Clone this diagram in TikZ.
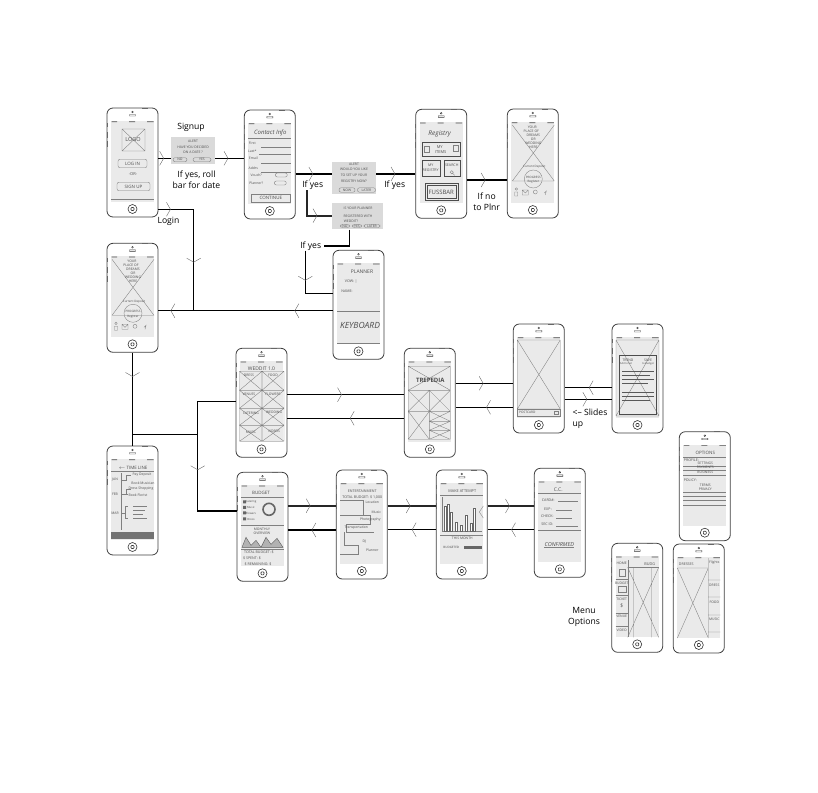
\documentclass[tikz,border=0pt]{standalone}
\usepackage{fontspec}
\setmainfont{Open Sans}
\usetikzlibrary{positioning}
\usetikzlibrary{arrows.meta}
\usetikzlibrary{decorations.markings}
\definecolor{screengray}{HTML}{EAEAEA}
\definecolor{alertgray}{HTML}{DADADA}
\tikzset {
  % phone body
  phone/.style = {draw=black!75, fill=white, line width=.8pt, rounded corners=6pt, minimum width=51pt, minimum height=109pt, inner sep=0pt},
  homebtn/.style = {draw=black!80, circle, line width=.6pt, minimum size=9pt, inner sep=0pt},
  % paper cut outs between the phones
  alertbox/.style = {fill=alertgray, inner sep=0pt},
  % handwriting and pencil lines on the screens
  sk/.style = {text=black!70, inner sep=0pt, align=center},
  skline/.style = {draw=black!50, line width=.35pt},
  % connectors
  link/.style = {draw=black, line width=1.5pt},
  linkb/.style = {draw=black!85, line width=2.1pt},
  go/.style = {postaction={decorate, decoration={markings, mark=at position #1pt with {\arrow{Straight Barb[length=4pt, width=14pt, line width=.4pt, color=black!60]}}}}},
  lab/.style = {font=\fontsize{8.6}{11}\selectfont, inner sep=0pt, align=center},
}
\newcounter{skno}
\newcommand{\sk}[4][3.4]{\stepcounter{skno}\node[sk, font=\fontsize{#1}{#1}\selectfont] (sk\arabic{skno}) at (#2,#3) {#4};}
\newcommand{\skb}[6][3.4]{\stepcounter{skno}\node[sk, skline, rounded corners=2pt, minimum width=#4pt, minimum height=#5pt, font=\fontsize{#1}{#1}\selectfont] (sk\arabic{skno}) at (#2,#3) {#6};}
\newcommand{\xbox}[4]{\draw[skline] (#1,#2) rectangle (#3,#4) (#1,#2) -- (#3,#4) (#1,#4) -- (#3,#2);}
% name, left, top, screen content
\newcommand{\phone}[4]{
  \node[phone] (#1) at (#2+25.5,#3+54.5) {};
  \begin{scope}[shift={(#2,#3)}]
    \fill[screengray] (4,13) rectangle (47,94);
    \fill[black!70] (4.5,13.3) rectangle (10,14) (22,13.3) rectangle (28,14) (40,13.3) rectangle (46.5,14);
    \draw[black!60, line width=.9pt] (35,0) -- (41,0) (0,15) -- (0,19) (0,24) -- (0,30) (0,33) -- (0,39);
    \draw[black!80, line width=.4pt] (25.5,4) circle (.9) (22.5,6.5) rectangle (28.5,8);
    \node[homebtn] (#1btn) at (25.5,101) {};
    \draw[black!80, line width=.6pt, rounded corners=.8pt] (24,99.5) rectangle (27,102.5);
    #4
  \end{scope}
}
\newcommand{\homeshot}{
  \draw[skline] (5,16) -- (47,72) (47,16) -- (5,72) (5,72) -- (47,72);
  \sk{25}{18}{YOUR} \sk{24}{22}{PLACE OF} \sk{26}{26}{DREAMS} \sk{26}{30}{OR} \sk{26}{34}{WEDDING} \sk{26}{38}{HERE}
  \sk[3]{27}{58}{Current Deposit}
  \draw[skline] (26,70) ellipse (9 and 9);
  \sk[3]{26}{68}{PROGRESS} \sk[3]{26}{73}{Register}
  \draw[skline] (9,80) circle (1.2) (7.5,83) rectangle (10.5,87) (15,81) rectangle (21,86) (15,81) -- (18,84) -- (21,81) (28,83) circle (2) (37,84) -- (39,82) -- (38,86);
}

\begin{document}
\begin{tikzpicture}[x=1pt, y=-1pt]
  \useasboundingbox (0,0) rectangle (818,792);

  \phone{login}{107}{108}{
    \xbox{15}{21}{38}{43}
    \sk[5.5]{26}{32}{LOGO}
    \skb[4.5]{25.5}{55.5}{29}{8.5}{LOG IN}
    \sk[4]{26}{66.5}{-OR-}
    \skb[4.5]{26.5}{78.5}{33}{8.5}{SIGN UP}
    \draw[skline] (4,91) -- (47,91);
  }
  \phone{contact}{244.3}{110}{
    \sk[6]{26}{23}{\itshape Contact Info}
    \draw[skline] (4,28) -- (47,28) (17,37) -- (47,37) (15,44) -- (47,44) (17,53) -- (47,53) (17,62) -- (47,62);
    \sk{8}{33}{First} \sk{8}{41}{Last*} \sk{9}{48}{Email} \sk{9}{58}{Addrs}
    \sk{12}{65}{Vouch?} \sk{12}{73}{Planner?}
    \skb{37}{65}{12}{4}{} \skb{36}{73}{12}{4}{}
    \draw[skline] (7,84) rectangle (46,92);
    \sk[4.5]{26.5}{88}{CONTINUE}
  }
  \phone{registry}{415.7}{109.3}{
    \sk[6.5]{24}{25}{\itshape Registry}
    \draw[skline, black!70] (6,33) rectangle (44,47) (6,51) rectangle (24,67) (28,51) rectangle (44,67) (9,74) rectangle (42,91) (11,76) rectangle (40,89);
    \draw[skline] (8,37) rectangle (13,43) (37,36) rectangle (42,42);
    \sk[4]{24}{38}{MY} \sk[4]{25}{43}{ITEMS}
    \sk[3.6]{15}{56}{MY} \sk[3.6]{15}{61}{REGISTRY}
    \sk[3.6]{36}{56}{SEARCH}
    \draw[skline] (36,63) circle (1.6) (37,64) -- (39,66);
    \sk[6]{25.5}{83}{FUSSBAR}
  }
  \phone{hometop}{507.3}{109}{\homeshot}
  \phone{home}{107}{243.3}{\homeshot}
  \phone{planner}{333}{250.3}{
    \sk[5]{29}{21}{PLANNER}
    \sk[3.6]{18}{31}{VOW: |}
    \sk[3.6]{14}{41}{NAME:}
    \draw[skline] (4,61) -- (47,61) (4,93) -- (47,93);
    \sk[8.5]{27}{75}{\itshape KEYBOARD}
  }
  \phone{workout}{236}{348.3}{
    \sk[5]{25.5}{20}{WEDDIT 1.0}
    \xbox{3.5}{23}{26}{42} \xbox{26}{23}{48}{42}
    \xbox{3.5}{42}{26}{60} \xbox{26}{42}{48}{60}
    \xbox{3.5}{60}{26}{77} \xbox{26}{60}{48}{77}
    \xbox{3.5}{77}{26}{93} \xbox{26}{77}{48}{93}
    \sk{13}{27}{DRESS} \sk{37}{27}{FOOD} \sk{13}{46}{VENUES} \sk{37}{46}{FLOWERS}
    \sk{15}{65}{CATERING} \sk{38}{64}{WEDDING} \sk{15}{84}{MUSIC} \sk{38}{83}{VIDEOS}
  }
  \phone{timeline}{107}{446}{
    \sk[4.5]{26}{22}{$\leftarrow$ TIME LINE}
    \draw[skline] (4,25) -- (47,25) (14,27) -- (14,84);
    \sk{8}{34}{JAN} \sk{8}{48}{FEB} \sk{8}{67}{MAR}
    \draw[skline] (14,34) -- (19,34) -- (19,29) -- (24,29) (14,48) -- (19,48) -- (19,43) -- (24,43) (19,48) -- (21,48) (14,67) -- (18,67) -- (18,60) -- (21,60) (18,67) -- (18,72) -- (21,72);
    \sk{35}{29}{Pay Deposit} \sk{36}{37}{Book Musician} \sk{34}{43}{Dress Shopping} \sk{31}{49}{Book Florist}
    \draw[skline] (26,60) -- (40,60) (26,64) -- (38,64) (26,68) -- (36,68) (26,72) -- (40,72);
    \fill[black!55] (4,86) rectangle (47,93);
  }
  \phone{budget}{237}{472.3}{
    \sk[4.5]{24}{21}{BUDGET}
    \draw[skline] (4,25) -- (47,25) (4,53) -- (47,53) (4,77) -- (47,77);
    \fill[black!60] (6,28) rectangle (9,31) (6,33.5) rectangle (9,36.5) (6,39) rectangle (9,42) (6,45) rectangle (9,48);
    \sk[2.8]{14}{30}{Catering} \sk[2.8]{14}{35}{Music} \sk[2.8]{14}{41}{Flowers} \sk[2.8]{14}{47}{Dress}
    \draw[black!60, line width=1.6pt] (32,37) circle (6);
    \sk{25}{57}{MONTHLY} \sk{25}{61}{OVERVIEW}
    \draw[black!65, fill=black!30, line width=.4pt] (5,75) -- (9,65) -- (14,73) -- (19,68) -- (24,75) -- (29,65) -- (34,72) -- (40,66) -- (46,75) -- cycle;
    \sk[3.6]{22}{80}{TOTAL BUDGET: \$}
    \sk[3.6]{15}{86}{\$ SPENT: \$}
    \sk[3.6]{21}{91.5}{\$ REMAINING: \$}
  }
  \phone{entertain}{336.3}{470}{
    \sk[3.6]{26}{21}{ENTERTAINMENT}
    \sk[3.6]{26}{27}{TOTAL BUDGET: \$ 1,000}
    \draw[skline] (4,30) -- (27,30) -- (27,45) -- (4,45) (27,45) -- (34,45) -- (34,54) -- (10,54) -- (10,62) (10,62) -- (38,62) (8,62) -- (8,75) -- (22,75) -- (22,84) -- (4,84);
    \sk{36}{32}{Location} \sk{40}{42}{Music} \sk{34}{50}{Photography} \sk{20}{58}{Transportation} \sk{28}{72}{DJ} \sk{36}{80}{Planner}
  }
  \phone{make}{436.3}{470}{
    \sk[3.8]{26}{21}{MAKE ATTEMPT}
    \draw[skline] (4,25) -- (47,25) (6,27) -- (6,61) -- (46,61) (4,65) -- (47,65);
    \draw[black!60, line width=.45pt, fill=white] (8,36) rectangle (10,61) (11,34) rectangle (13,61) (14,42) rectangle (16,61) (19,52) rectangle (21,61) (24,55) rectangle (26,61) (29,45) rectangle (31,61) (34,53) rectangle (36,61) (37,38) rectangle (39,61);
    \draw[skline] (47,36) -- (43,42) -- (47,48);
    \sk{26}{68}{THIS MONTH}
    \sk[3]{15}{77}{BUDGETED}
    \fill[black!60] (28,75.5) rectangle (46,78.5);
  }
  \phone{payform}{534.3}{468.3}{
    \sk[5]{24}{21}{C.C.}
    \draw[skline] (4,25) -- (47,25) (24,33) -- (44,33) (22,42) -- (38,42) (22,50) -- (38,50) (22,58) -- (44,58) (4,62) -- (47,62);
    \sk[3.6]{14}{32}{CARD\#:} \sk[3.6]{14}{41}{EXP :} \sk[3.6]{13}{48}{CHECK:} \sk[3.6]{13}{56}{SEC ID:}
    \sk[5.5]{25}{76}{\itshape CONFIRMED}
    \draw[skline] (10,79) -- (40,79);
  }
  \phone{transit}{404.3}{348.3}{
    \xbox{4}{18}{46}{42}
    \sk[6]{26}{32}{\bfseries TREPEDIA}
    \xbox{4}{42}{25}{63} \xbox{25}{42}{46}{63}
    \xbox{4}{63}{25}{91} \xbox{25}{63}{46}{73} \xbox{25}{73}{46}{82} \xbox{25}{82}{46}{91}
  }
  \phone{venuemap}{513.3}{324}{
    \xbox{4}{16}{47}{85}
    \draw[skline] (4,85) rectangle (47,92);
    \sk[3.2]{14}{88.5}{POSTCARD}
    \draw[skline] (41,87) rectangle (45,90);
  }
  \phone{detail}{612}{324}{
    \xbox{4}{16}{47}{92}
    \draw[skline, black!70] (7,31) rectangle (44,90);
    \sk{16}{36}{TREND} \sk{36}{36}{SAVE} \sk[2.6]{14}{40}{Add to list} \sk[2.6]{36}{40}{to budget}
    \draw[black!65, line width=.4pt] (10,47) -- (42,47) (10,51) -- (38,51) (10,55) -- (42,55) (10,59) -- (36,59) (10,68) -- (42,68) (10,72) -- (42,72) (10,76) -- (38,76);
  }
  \phone{options}{679.3}{431.7}{
    \sk[4.5]{26}{21}{OPTIONS}
    \draw[skline] (4,25) -- (47,25) (4,34) -- (47,34) (4,38) -- (47,38) (4,43) -- (47,43) (4,60) -- (47,60) (4,64) -- (47,64) (4,68) -- (47,68) (4,73) -- (47,73);
    \sk[3.6]{12}{29}{PROFILE:} \sk{26}{32}{SETTINGS} \sk{26}{36}{PAYMENTS} \sk{26}{41}{BUSINESS} \sk[3.6]{11}{49}{POLICY:} \sk{26}{54}{TERMS} \sk{26}{58}{PRIVACY}
  }
  \phone{menubudget}{611.7}{543.3}{
    \sk[3.8]{38}{21}{BUDG}
    \draw[skline] (16,17) -- (16,94) (16,24) -- (47,24) (4,36) -- (16,36) (4,52) -- (16,52) (4,70) -- (16,70) (4,83) -- (16,83);
    \draw[skline] (22,24) -- (22,94) (40,24) -- (40,94) (16,24) -- (47,94) (47,24) -- (16,94);
    \sk{10}{20}{HOME} \sk{10}{40}{BUDGET} \sk{10}{56}{TICKET} \sk{10}{73}{VENUE} \sk{10}{87}{VIDEO}
    \draw[skline] (7,26) rectangle (13,33) (6,43) rectangle (14,49);
    \sk[5]{10}{62}{\$}
  }
  \phone{menudress}{673.3}{544}{
    \sk[3.6]{13}{20}{DRESSES}
    \draw[skline] (35,14) -- (35,94) (4,24) -- (35,24) (35,36) -- (47,36) (35,53) -- (47,53) (35,71) -- (47,71) (35,88) -- (47,88) (4,24) -- (35,94) (35,24) -- (4,94);
    \sk{41}{19}{Flights} \sk{41}{41}{DRESS} \sk{41}{58}{FOOD} \sk{41}{75}{MUSIC}
  }

  % cut outs
  \node[alertbox, minimum width=43.7pt, minimum height=27.3pt] (alertdate) at (193.2,150.3) {};
  \sk{193}{141}{ALERT} \sk{193}{147}{HAVE YOU DECIDED} \sk{193}{152}{ON A DATE ?}
  \skb{180}{159.7}{14}{4}{NO} \skb{202}{159.7}{18}{4}{YES}
  \node[alertbox, minimum width=43.7pt, minimum height=32.6pt] (alertreg) at (354.2,178) {};
  \sk{354}{164.5}{ALERT} \sk{354}{169.5}{WOULD YOU LIKE} \sk{354}{175.5}{TO SET UP YOUR} \sk{354}{181}{REGISTRY NOW?}
  \skb{347}{190}{16}{4.5}{NOW} \skb{366.5}{190}{18}{4.5}{LATER}
  \node[alertbox, minimum width=51pt, minimum height=26pt] (alertplan) at (357.8,216.3) {};
  \sk{358}{208}{IS YOUR PLANNER} \sk{358}{216}{REGISTERED WITH} \sk{351}{221}{WEDDIT?}
  \skb{345}{226}{9}{3}{NO} \skb{357}{226}{9}{3}{YES} \skb{372}{226}{16}{3}{LATER}

  % labels
  \node[lab] (signup) at (191,127.5) {Signup};
  \node[lab] (rollbar) at (196.5,180) {If yes, roll\\bar for date};
  \node[lab] (loginlab) at (168.5,221.7) {Login};
  \node[lab] (ifyesa) at (312.7,185.7) {If yes};
  \node[lab] (ifyesc) at (394.7,185) {If yes};
  \node[lab] (ifnolab) at (486.7,202) {If no\\to Plnr};
  \node[lab] (ifyesb) at (310.7,246) {If yes};
  \node[lab, align=left] (slideslab) at (590,419) {<-- Slides\\up};
  \node[lab] (menulab) at (584,617) {Menu\\Options};

  % top row
  \draw[link, go=5.5] (login.east |- 0,158.3) -- (alertdate.west |- 0,158.3);
  \draw[link, go=13] (alertdate.east |- 0,158.3) -- (contact.west |- 0,158.3);
  \draw[link, go=17.4] (contact.east |- 0,174) -- (alertreg.west |- 0,174);
  \draw[link, go=19] (alertreg.east |- 0,174) -- (registry.west |- 0,174);
  \draw[link, go=18.3] (registry.east |- 0,180) -- (hometop.west |- 0,180);
  \draw[linkb, go=35.4] (307.3,0 |- ifyesa.south) |- (alertplan.west |- 0,215.7);
  \draw[link] (349.3,0 |- alertplan.south) |- ([xshift=3pt]ifyesb.east);
  \draw[link, go=30] (305.3,0 |- ifyesb.south) |- (planner.west |- 0,293.3);
  \draw[link, go=12.3, go=88.4] (login.east |- 0,209.3) -| (193.7,310.7);
  \draw[link, go=38, go=162] (planner.west |- 0,310.7) -- (home.east |- 0,310.7);

  % left trunk
  \coordinate (fork) at (home.south |- 0,434.7);
  \coordinate (split) at (197.7,434.7);
  \draw[link, go=24] (home.south) -- (timeline.north);
  \draw[link] (fork) -- (split);
  \draw[link] (split) |- (workout.west |- 0,401.7);
  \draw[link, go=35.3] (split) |- (budget.west |- 0,511);

  % upper row
  \draw[link, go=54.4] (workout.east |- 0,394.7) -- (transit.west |- 0,394.7);
  \draw[link, go=54] (transit.west |- 0,418.3) -- (workout.east |- 0,418.3);
  \draw[link, go=27.7] (transit.east |- 0,383.3) -- (venuemap.west |- 0,383.3);
  \draw[link, go=26.6] (venuemap.west |- 0,407.3) -- (transit.east |- 0,407.3);
  \draw[link, go=22.7] (detail.west |- 0,387.7) -- (venuemap.east |- 0,387.7);
  \draw[link, go=22.4] (venuemap.east |- 0,399.3) -- (detail.west |- 0,399.3);

  % lower row
  \draw[linkb, go=22] (budget.east |- 0,505.7) -- (entertain.west |- 0,505.7);
  \draw[link, go=24.3] (entertain.west |- 0,530) -- (budget.east |- 0,530);
  \draw[linkb, go=22.7] (entertain.east |- 0,506) -- (make.west |- 0,506);
  \draw[link, go=24] (make.west |- 0,529.7) -- (entertain.east |- 0,529.7);
  \draw[linkb, go=22] (make.east |- 0,506) -- (payform.west |- 0,506);
  \draw[link, go=22.6] (payform.west |- 0,529.7) -- (make.east |- 0,529.7);
\end{tikzpicture}
\end{document}
